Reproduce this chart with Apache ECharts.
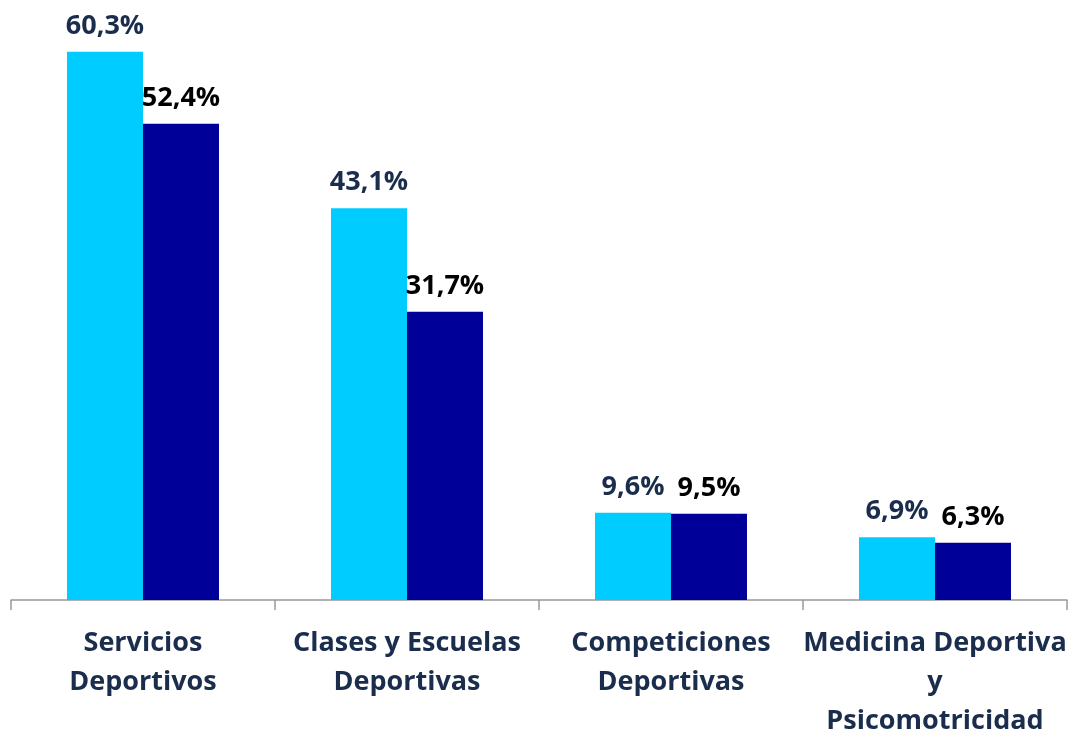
<!DOCTYPE html>
<html>
<head>
<meta charset="utf-8">
<script src="https://cdn.jsdelivr.net/npm/echarts@6/dist/echarts.min.js"></script>
<style>
    html, body { margin: 0; padding: 0; background: #fff; }
    #chart { width: 1070px; height: 732px; }
</style>
</head>
<body>
<div id="chart"></div>
<script>
const categories = ['Servicios\nDeportivos', 'Clases y Escuelas\nDeportivas', 'Competiciones\nDeportivas', 'Medicina Deportiva\ny\nPsicomotricidad'];
const serieA = [60.3, 43.1, 9.6, 6.9];
const serieB = [52.4, 31.7, 9.5, 6.3];

const chart = echarts.init(document.getElementById('chart'));

const fmt = (p) => p.value.toFixed(1).replace('.', ',') + '%';
const labelFont = 'Open Sans, sans-serif';

chart.setOption({
    animation: false,
    grid: { left: 11, right: 3, top: 0, bottom: 132, outerBoundsMode: 'none', containLabel: false },
    xAxis: {
        type: 'category',
        data: categories,
        axisLine: { show: true, lineStyle: { color: '#999999', width: 1.5 } },
        axisTick: { show: true, alignWithLabel: false, length: 10, lineStyle: { color: '#999999', width: 1.5 } },
        axisLabel: {
            color: '#1b2d4d',
            fontFamily: labelFont,
            fontWeight: 'bold',
            fontSize: 27,
            lineHeight: 39,
            margin: 24,
            interval: 0
        }
    },
    yAxis: {
        type: 'value',
        min: 0,
        max: 66,
        show: false,
        splitLine: { show: false }
    },
    series: [
        {
            type: 'bar',
            data: serieA,
            barWidth: 76,
            barGap: '0%',
            itemStyle: { color: '#00ccff' },
            label: {
                show: true,
                position: 'top',
                distance: 12,
                formatter: fmt,
                color: '#1b2d4d',
                fontFamily: labelFont,
                fontWeight: 'bold',
                fontSize: 27
            }
        },
        {
            type: 'bar',
            data: serieB,
            barWidth: 76,
            itemStyle: { color: '#000099' },
            label: {
                show: true,
                position: 'top',
                distance: 12,
                formatter: fmt,
                color: '#000000',
                fontFamily: labelFont,
                fontWeight: 'bold',
                fontSize: 27
            }
        }
    ]
});
</script>
</body>
</html>
